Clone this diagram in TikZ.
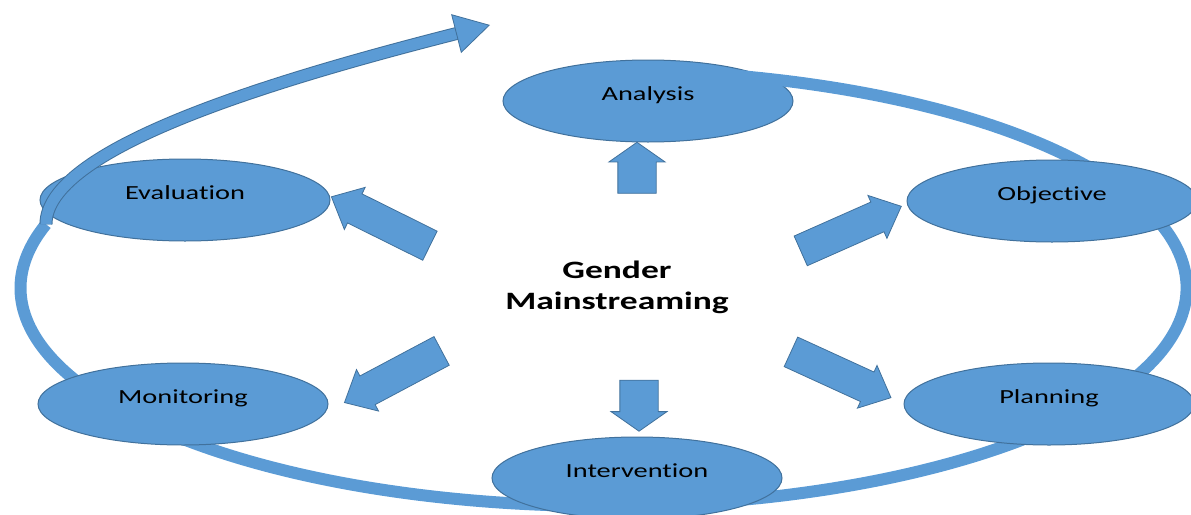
\documentclass[tikz,border=0pt]{standalone}
\usepackage{fontspec}
\newfontfamily\carlito{Carlito}[FakeStretch=1.42, Ligatures=NoCommon]
\usetikzlibrary{shapes.geometric,shapes.arrows,arrows.meta}
\definecolor{fillblue}{HTML}{5B9BD5}
\definecolor{lineblue}{HTML}{41719C}

\begin{document}
\begin{tikzpicture}[x=1pt, y=-1pt,
    phase/.style={ellipse, fill=fillblue, draw=lineblue, line width=1pt,
      minimum width=290pt, minimum height=82pt, inner sep=0pt,
      text height=12pt, text depth=13.5pt, font=\carlito\fontsize{20}{24}\selectfont},
    flat/.style={single arrow, fill=fillblue, draw=lineblue, line width=0.8pt,
      inner xsep=0pt, inner ysep=15pt, minimum width=56pt, minimum height=51pt,
      single arrow tip angle=110},
    slant/.style={single arrow, fill=fillblue, draw=lineblue, line width=0.8pt,
      inner xsep=0pt, inner ysep=15.5pt, minimum width=47pt, minimum height=110pt,
      single arrow tip angle=84}]
    \clip (0,0) rectangle (1191,514);
    \node[phase] (analysis) at (648,101) {Analysis};
    \draw[fillblue, line width=12pt] (603.5,288) ++(-78:583 and 218)
        arc[start angle=-78, end angle=197, x radius=583, y radius=218] coordinate (loopend);
    \node[phase] (objective) at (1052,201) {Objective};
    \node[phase] (planning) at (1049,404) {Planning};
    \node[phase] (intervention) at (637,478) {Intervention};
    \node[phase] (monitoring) at (183,404) {Monitoring};
    \node[phase] (evaluation) at (185,200) {Evaluation};
    \coordinate (arrowtip) at (490,25);
    \draw[lineblue, line width=13pt, shorten >=34pt] (loopend) .. controls (46,150) and (262,83) .. (arrowtip);
    \draw[fillblue, line width=11pt,
        -{Triangle[length=35pt, width=40pt, fill=fillblue, color=lineblue, line width=0.8pt]}]
        (loopend) .. controls (46,150) and (262,83) .. (arrowtip);
    \node[font=\carlito\bfseries\fontsize{25}{31}\selectfont, align=center] (gm) at (617,287) {Gender\\Mainstreaming};
    \node[flat, rotate=90] (toanalysis) at (637,174.5) {};
    \node[flat, rotate=-90] (tointervention) at (639,399) {};
    \node[slant, rotate=153.6] (toevaluation) at (388.75,225.25) {};
    \node[slant, rotate=-152] (tomonitoring) at (401,372.5) {};
    \node[slant, rotate=23.9] (toobjective) at (842.75,232.25) {};
    \node[slant, rotate=-24.6] (toplanning) at (832.75,371) {};
\end{tikzpicture}
\end{document}
